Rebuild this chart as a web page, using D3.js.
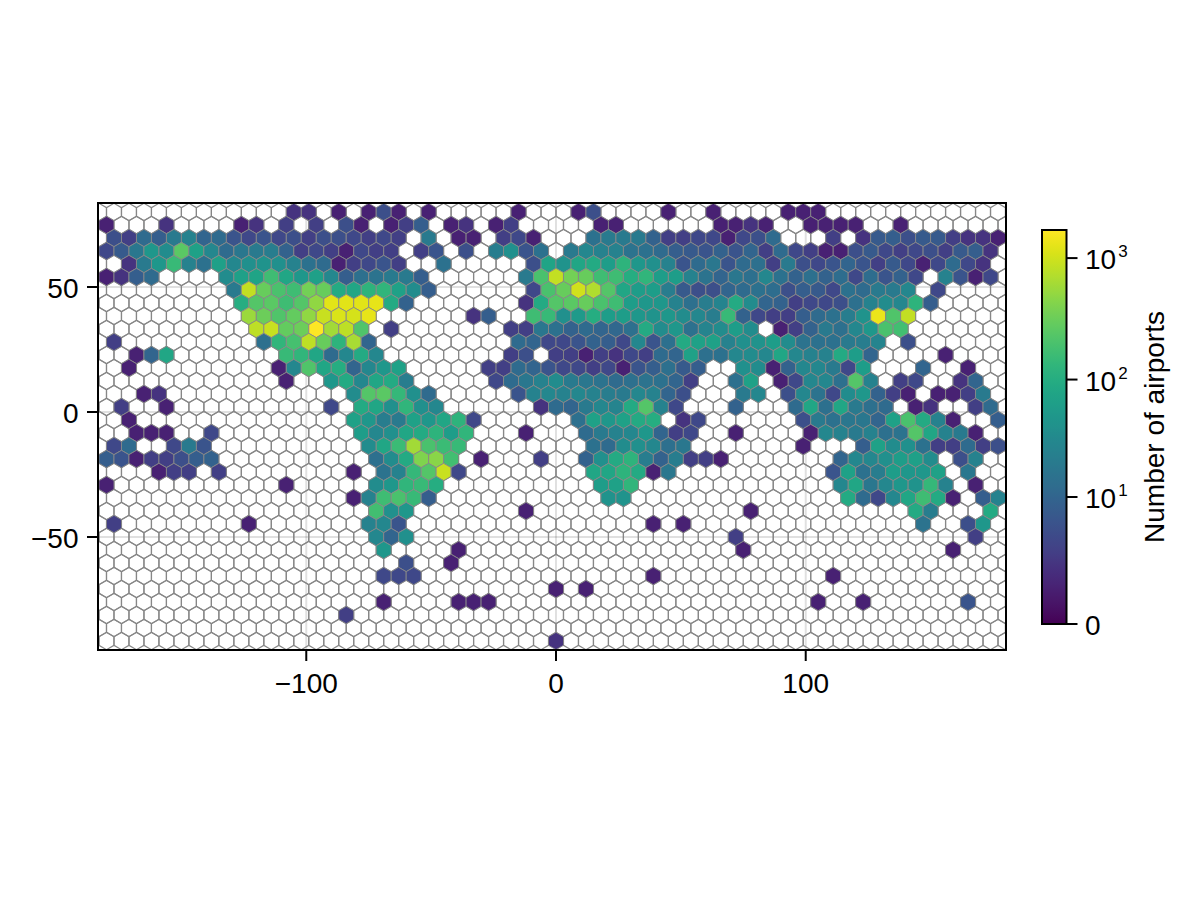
<!DOCTYPE html>
<html><head><meta charset="utf-8">
<script src="https://cdn.jsdelivr.net/npm/d3@7"></script>
<style>html,body{margin:0;padding:0;background:#fff}svg{display:block}text{font-family:"Liberation Sans",Arial,sans-serif;fill:#000}</style>
</head><body><div id="c"></div>
<script>
// counts per hexagon row (top to bottom); each run is [firstColumn, count, count, ...]
const row00=[[12,2,2],[15,1],[17,1,5,1],[21,1],[27,1],[31,1,5],[37,1],[40,1],[45,1,1,1]];
const row01=[[0,1],[4,2],[9,1,2],[12,3],[14,3],[16,5,1],[19,1,3,8],[23,1,2],[26,1,3],[33,1,1],[41,1,1,2,1],[47,1,1,1,1],[53,1]];
const row02=[[0,5,3,12,8,20,25,10,12,6,4,6,4,5,3,5,5,4,3,4,3],[21,20],[23,1,1],[26,3,4,1],[32,15,20,20,20,9,3,3,4,4,1,4,5,12],[48,3],[50,2,7,8,5,7,7,3,2,2,1]];
const row03=[[0,4,7,18,50,35,250,70,30,12,18,20,22,9,3,4,3,1,4,3,3],[21,3,6],[24,5],[26,22,40,6,15],[31,20,30,25,25,16,15,12,8,7,6,9,6,10,3,12,4,3,1,1,5,7,4,3,4,5,3,7,8,2]];
const row04=[[1,2,20,50,150,25,15,65,30,40,45,40,25,15,12,1,3,4,6,3],[22,15],[28,5,75,45,80,90,60,120,50,40,25,6,12,18,6,12,14,3,20,5,4,6,10,6,3,7,4,1,4,12,4,2]];
const row05=[[0,1,2,8,12],[8,35,65,75,170,80,50,65,30,8,14,16,20,20,8],[28,20,200,850,350,300,170,170,100,130,60,60,25,16,10,18,14,30,15,9,14,9,13,4,13,6,9,4],[56,25,6,1,4]];
const row06=[[8,20,850,300,200,170,350,300,90,80,120,130,70,35,8],[28,4,200,300,1000,700,230,80,60,60,22,7,5,5,10,12,15,13,5,8,7,4,15,12,20,20,30],[55,4]];
const row07=[[9,100,230,250,170,230,500,1200,1200,1200,1300,90,9],[28,2,90,230,250,300,200,170,60,50,50,25,14,22,28,90,35,10,9,3,4,4,5,14,25,35,30,120,8]];
const row08=[[9,550,320,220,280,500,900,1100,1050,1300],[24,2,8],[28,170,150,40,55,100,60,60,50,45,50,35,30,22,150,9,4,3,3,8,12,15,22,45,1350,220,850]];
const row09=[[10,800,900,280,320,1700,600,800,220],[19,3],[27,3,3,18,15,9,12,10,11,14,90,35,50,15,28,35,60,35],[45,1,3,9,20,14,30,50,200,180]];
const row10=[[0,3],[10,14,130,190,800,300,120,650,10],[27,12,10,4,4,6,9,8,4,30,6,14,90,70,70,25,40,45,60,35,16,15,15,20,22,28],[53,5]];
const row11=[[2,1,10,80],[12,150,130,80,12,30,90,30],[27,3,5],[30,3,3,1,3,2,4,3,12,10,70,14,15,30,35,30,80,30,25,25,90,60,10],[56,1]];
const row12=[[1,1],[11,1,30,220,80,100,10,30,50,70],[25,3,3,12,10,6,4,4,3,4,1,6,8,14,7,8],[42,40,35,1,9,30,30,20,4,60],[54,10],[57,1]];
const row13=[[12,1],[15,50,90,30,80,90,22],[26,4,12,18,25,35,20,18,16,12,14,16,15,10,3],[42,14,70],[45,1,4,30,30,14,230,25],[53,3,4],[57,2,10]];
const row14=[[2,1,2],[16,35,230,250,140,40,12],[27,6,25,30,25,30,25,22,20,30,25,10,5],[42,20,30],[45,5,30,16,4,35,50,9,3,1],[55,1,1,3,20]];
const row15=[[1,3],[4,1],[15,4],[17,90,80,40,130,40,30],[29,2,12,10,20,30,28,90,230,25,4],[42,9],[46,12,80,14,80,20,14,12],[54,1,2],[58,3,12]];
const row16=[[1,1],[16,70,50,22,20,70,50,80,120,4],[31,14,70,50,70,90,100],[38,2,4],[46,5,20,15,18,18,10,70,200,90,25,1],[59,8]];
const row17=[[2,1,1,1],[7,4],[17,60,30,40,80,90,120,60,130],[28,1],[32,12,20,25,30,50,10,3,4],[42,1],[47,1,30,25,20,25,14,16,230,80,25,20,1]];
const row18=[[0,4,12],[4,4,20,6],[17,35,80,160,600,200,160,150],[32,15,12,35,40,30,14,18],[46,1],[50,8,70,35,40,15,3,3,12,3,5]];
const row19=[[0,8,6,1,3,3,5,8,9],[18,14,35,90,400,450,180],[25,1],[29,3],[32,9,40,90,120,22,9,22,3,3,1],[49,10,30,30,40,60,65,35],[57,5,25]];
const row20=[[3,1,3,3],[7,3],[16,1],[18,16,25,140,230,900,4],[32,80,80,120,90,1,18],[48,6,70,15,22,60,50,50,70],[57,18]];
const row21=[[0,1],[12,1],[18,35,50,130,150,100],[33,60,70,130],[49,30,80,18,30,50,45,140,25],[58,1]];
const row22=[[16,1,25,170,200,150,8],[33,45,45],[49,90,12,4,30,80,170,90,1],[58,8,25]];
const row23=[[18,180,40,50],[28,1],[43,1],[54,90,22],[59,90]];
const row24=[[0,3],[9,1],[17,25,30,6],[36,1],[38,1],[54,16],[57,5,50]];
const row25=[[18,30,10,40],[42,3],[58,3]];
const row26=[[18,50],[23,1],[42,1],[56,1]];
const row27=[[20,5],[23,1]];
const row28=[[18,4,4,4],[36,1],[48,1]];
const row29=[[30,1],[32,1]];
const row30=[[18,1],[23,1,1,1],[47,1],[50,1],[57,6]];
const row31=[[16,3]];
const row32=[];
const row33=[[30,2]];
const rows=[row00,row01,row02,row03,row04,row05,row06,row07,row08,row09,row10,row11,row12,row13,row14,row15,row16,row17,row18,row19,row20,row21,row22,row23,row24,row25,row26,row27,row28,row29,row30,row31,row32,row33];

const xTicks=[-100,0,100];
const yTicks=[-50,0,50];
const colorTicks=[0,10,100,1000];
const colorMax=1700;
const legendTitle="Number of airports";

const W=1200,H=900;
const P={l:98,r:1006,t:203,b:650};
const x=d3.scaleLinear().domain([-183.4,180.2]).range([P.l,P.r]);
const y=d3.scaleLinear().domain([-95.2,83.6]).range([P.b,P.t]);
const color=d3.scaleSequentialSymlog(d3.interpolateViridis).domain([0,colorMax]).constant(1);
const cbY=d3.scaleSymlog().domain([0,colorMax]).constant(1).range([624,230]);

const cellW=6, cellH=5.2, latBottom=-91.6, nCols=60, nRows=rows.length;
const lonOf=(r,k)=>(k-30)*cellW+(r%2===0?cellW/2:0);
const latOf=r=>latBottom+(nRows-1-r)*cellH;

const svg=d3.select("#c").append("svg").attr("width",W).attr("height",H);
const defs=svg.append("defs");
defs.append("clipPath").attr("id","pc").append("rect")
 .attr("x",P.l).attr("y",P.t).attr("width",P.r-P.l).attr("height",P.b-P.t);
const grad=defs.append("linearGradient").attr("id","cbg").attr("x1",0).attr("x2",0).attr("y1",1).attr("y2",0);
grad.selectAll("stop").data(d3.range(0,1.0001,0.02)).join("stop")
  .attr("offset",d=>d).attr("stop-color",d=>d3.interpolateViridis(d));

// grid lines
const grid=svg.append("g").attr("stroke","#000").attr("stroke-opacity",0.12).attr("stroke-width",2);
grid.selectAll(".gx").data(xTicks).join("line").attr("x1",d=>x(d)).attr("x2",d=>x(d)).attr("y1",P.t).attr("y2",P.b);
grid.selectAll(".gy").data(yTicks).join("line").attr("y1",d=>y(d)).attr("y2",d=>y(d)).attr("x1",P.l).attr("x2",P.r);

// cells
const cells=[];
rows.forEach((runs,r)=>{
  const m=new Map();
  runs.forEach(run=>run.slice(1).forEach((v,i)=>m.set(run[0]+i,v)));
  d3.range(-1,nCols+1).forEach(k=>cells.push({lon:lonOf(r,k),lat:latOf(r),n:m.get(k)||0}));
});
function hex(d){
  const cx=x(d.lon),cy=y(d.lat);
  const hw=x(cellW/2)-x(0), R=(y(0)-y(cellH))/1.5;
  return d3.line()([[cx,cy-R],[cx+hw,cy-R/2],[cx+hw,cy+R/2],[cx,cy+R],[cx-hw,cy+R/2],[cx-hw,cy-R/2]])+"Z";
}
const hg=svg.append("g").attr("clip-path","url(#pc)").attr("stroke","#878787");
hg.append("g").attr("stroke-width",1.2).attr("fill","none")
  .selectAll("path").data(cells.filter(d=>d.n===0)).join("path").attr("d",hex);
hg.append("g").attr("stroke-width",0.9)
  .selectAll("path").data(cells.filter(d=>d.n>0)).join("path").attr("d",hex).attr("fill",d=>color(d.n));

// frame
svg.append("rect").attr("x",P.l).attr("y",P.t).attr("width",P.r-P.l).attr("height",P.b-P.t)
 .attr("fill","none").attr("stroke","#000").attr("stroke-width",2);

// axes
const fs=28;
const fmt=d=>String(d).replace("-","\u2212");
const ax=svg.append("g");
ax.selectAll(".tx").data(xTicks).join("line").attr("x1",d=>x(d)).attr("x2",d=>x(d)).attr("y1",P.b).attr("y2",P.b+11).attr("stroke","#000").attr("stroke-width",2);
ax.selectAll(".lx").data(xTicks).join("text").attr("x",d=>x(d)).attr("y",693).attr("text-anchor","middle").attr("font-size",fs).text(fmt);
ax.selectAll(".ty").data(yTicks).join("line").attr("y1",d=>y(d)).attr("y2",d=>y(d)).attr("x1",P.l-11).attr("x2",P.l).attr("stroke","#000").attr("stroke-width",2);
ax.selectAll(".ly").data(yTicks).join("text").attr("x",78.5).attr("y",d=>y(d)+10.5).attr("text-anchor","end").attr("font-size",fs).text(fmt);

// colour bar
const cb={x:1042,w:24.5};
svg.append("rect").attr("x",cb.x).attr("y",cbY.range()[1]).attr("width",cb.w).attr("height",cbY.range()[0]-cbY.range()[1])
  .attr("fill","url(#cbg)").attr("stroke","#000").attr("stroke-width",2);
const cbg=svg.append("g");
cbg.selectAll("line").data(colorTicks).join("line").attr("x1",cb.x+cb.w).attr("x2",cb.x+cb.w+11)
  .attr("y1",d=>cbY(d)).attr("y2",d=>cbY(d)).attr("stroke","#000").attr("stroke-width",2);
const lbl=cbg.selectAll("text").data(colorTicks).join("text").attr("x",1085).attr("y",d=>cbY(d)+11).attr("font-size",fs);
lbl.each(function(d){
  const t=d3.select(this);
  if(d===0){t.text("0");return;}
  t.append("tspan").text("10");
  t.append("tspan").attr("font-size",17).attr("dy",-11.7).attr("dx",2).text(Math.round(Math.log10(d)));
});
svg.append("text").attr("transform","translate(1164,427) rotate(-90)").attr("text-anchor","middle").attr("font-size",fs).text(legendTitle);
</script></body></html>
